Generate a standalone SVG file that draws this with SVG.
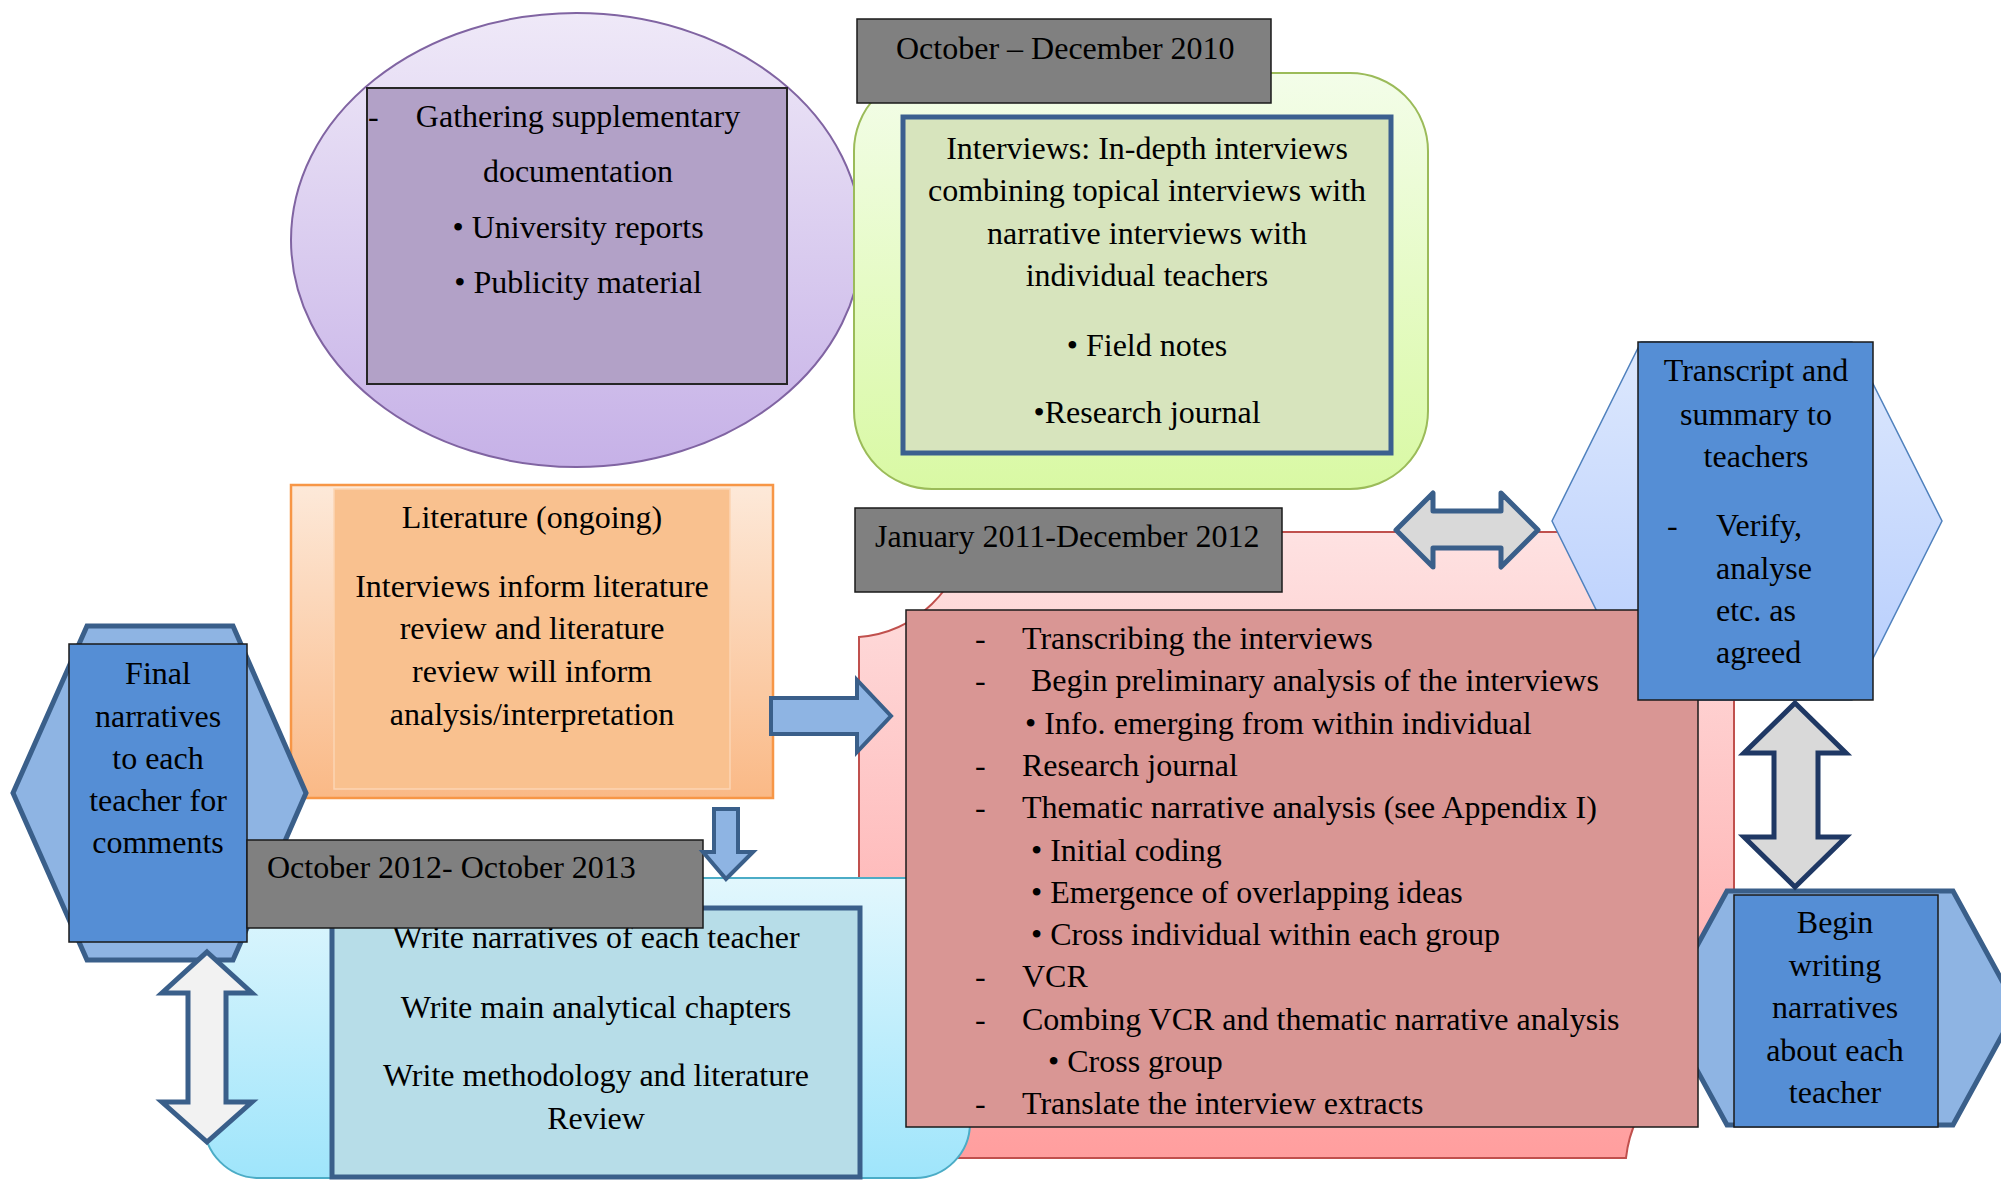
<svg xmlns="http://www.w3.org/2000/svg" width="2001" height="1180" viewBox="0 0 2001 1180">
<defs>
<linearGradient id="gPurple" x1="0" y1="0" x2="0" y2="1"><stop offset="0" stop-color="#efe9f8"/><stop offset="1" stop-color="#c6b1e7"/></linearGradient>
<linearGradient id="gGreen" x1="0" y1="0" x2="0" y2="1"><stop offset="0" stop-color="#f3fde9"/><stop offset="1" stop-color="#d9f9a4"/></linearGradient>
<linearGradient id="gOrange" x1="0" y1="0" x2="0" y2="1"><stop offset="0" stop-color="#fde9d9"/><stop offset="1" stop-color="#fab986"/></linearGradient>
<linearGradient id="gPink" x1="0" y1="0" x2="0" y2="1"><stop offset="0" stop-color="#fee2e2"/><stop offset="1" stop-color="#ff9e9e"/></linearGradient>
<linearGradient id="gCyan" x1="0" y1="0" x2="0" y2="1"><stop offset="0" stop-color="#e2f7fd"/><stop offset="1" stop-color="#9fe5fb"/></linearGradient>
<linearGradient id="gHex" x1="0" y1="0" x2="0" y2="1"><stop offset="0" stop-color="#dde8fd"/><stop offset="1" stop-color="#b6cdfd"/></linearGradient>
</defs>
<style>
text{font-family:"Liberation Serif","Times New Roman",serif;font-size:32px;fill:#000}
.c{text-anchor:middle}
.lbl{fill:#808080;stroke:#1a1a1a;stroke-width:1.5}
.blue{fill:#558ed5;stroke:#1a1a1a;stroke-width:1.5}
.hex{fill:#8eb4e3;stroke:#3a5f8a;stroke-width:5;stroke-linejoin:miter}
.blk{fill:#8eb4e3;stroke:#3a5f8a;stroke-width:4;stroke-linejoin:miter}
.dbl{fill:#d9d9d9;stroke:#3a5f8a;stroke-width:5;stroke-linejoin:round}
</style>

<g id="node-documentation">
<ellipse cx="576.5" cy="240" rx="285.5" ry="227" fill="url(#gPurple)" stroke="#8064a2" stroke-width="2"/>
<rect x="367" y="88" width="420" height="296" fill="#b2a1c7" stroke="#262626" stroke-width="2"/>
<text x="368" y="127">-</text>
<text class="c" x="578" y="127">Gathering supplementary</text>
<text class="c" x="578" y="182">documentation</text>
<text class="c" x="578" y="238">• University reports</text>
<text class="c" x="578" y="293">• Publicity material</text>
</g>

<g id="node-interviews">
<rect x="854" y="73" width="574" height="416" rx="78" fill="url(#gGreen)" stroke="#9bbb59" stroke-width="2"/>
<rect x="903" y="117" width="488" height="336" fill="#d7e4bd" stroke="#3b5f8f" stroke-width="5"/>
<text class="c" x="1147" y="159">Interviews: In-depth interviews</text>
<text class="c" x="1147" y="201">combining topical interviews with</text>
<text class="c" x="1147" y="244">narrative interviews with</text>
<text class="c" x="1147" y="286">individual teachers</text>
<text class="c" x="1147" y="356">• Field notes</text>
<text class="c" x="1147" y="423">•Research journal</text>
</g>

<g id="label-2010">
<rect class="lbl" x="857" y="19" width="414" height="84"/>
<text x="896" y="59">October – December 2010</text>
</g>

<g id="node-literature">
<rect x="291" y="485" width="482" height="313" fill="url(#gOrange)" stroke="#f79646" stroke-width="2.5"/>
<rect x="334" y="489" width="396" height="300" fill="#f9c18f" stroke="#fcd5b4" stroke-width="1.5"/>
<text class="c" x="532" y="528">Literature (ongoing)</text>
<text class="c" x="532" y="597">Interviews inform literature</text>
<text class="c" x="532" y="639">review and literature</text>
<text class="c" x="532" y="682">review will inform</text>
<text class="c" x="532" y="725">analysis/interpretation</text>
</g>

<g id="node-analysis-frame">
<path d="M859,1158 L859,637 A118,118 0 0 0 967,532 L1734,532 L1734,1053 A118,118 0 0 0 1626,1158 Z" fill="url(#gPink)" stroke="#c0504d" stroke-width="2"/>
</g>

<g id="label-2011">
<rect class="lbl" x="855" y="508" width="427" height="84"/>
<text x="875" y="547">January 2011-December 2012</text>
</g>

<g id="node-writing">
<path d="M204,878 H970 V1123 A55,55 0 0 1 915,1178 H259 A55,55 0 0 1 204,1123 Z" fill="url(#gCyan)" stroke="#4bacc6" stroke-width="2"/>
<rect x="332" y="908" width="528" height="269" fill="#b7dde8" stroke="#3a5f8a" stroke-width="5"/>
<text class="c" x="596" y="948">Write narratives of each teacher</text>
<text class="c" x="596" y="1018">Write main analytical chapters</text>
<text class="c" x="596" y="1086">Write methodology and literature</text>
<text class="c" x="596" y="1129">Review</text>
</g>

<g id="node-transcript-frame">
<polygon points="1552,521 1641,342 1852,342 1942,521 1852,700 1641,700" fill="url(#gHex)" stroke="#4f81bd" stroke-width="1.5"/>
</g>

<g id="node-begin-frame">
<polygon class="hex" points="1663,1008 1727,891 1953,891 2017,1008 1953,1125 1727,1125"/>
</g>

<g id="node-analysis">
<rect x="906" y="610" width="792" height="517" fill="#d99694" stroke="#1a1a1a" stroke-width="1.5"/>
<text x="975" y="649">-</text><text x="1022" y="649">Transcribing the interviews</text>
<text x="975" y="691">-</text><text x="1031" y="691">Begin preliminary analysis of the interviews</text>
<text x="1025" y="734">• Info. emerging from within individual</text>
<text x="975" y="776">-</text><text x="1022" y="776">Research journal</text>
<text x="975" y="818">-</text><text x="1022" y="818">Thematic narrative analysis (see Appendix I)</text>
<text x="1031" y="861">• Initial coding</text>
<text x="1031" y="903">• Emergence of overlapping ideas</text>
<text x="1031" y="945">• Cross individual within each group</text>
<text x="975" y="987">-</text><text x="1022" y="987">VCR</text>
<text x="975" y="1030">-</text><text x="1022" y="1030">Combing VCR and thematic narrative analysis</text>
<text x="1048" y="1072">• Cross group</text>
<text x="975" y="1114">-</text><text x="1022" y="1114">Translate the interview extracts</text>
</g>

<g id="node-transcript">
<rect class="blue" x="1638" y="342" width="235" height="358"/>
<text class="c" x="1756" y="381">Transcript and</text>
<text class="c" x="1756" y="425">summary to</text>
<text class="c" x="1756" y="467">teachers</text>
<text x="1667" y="536">-</text>
<text x="1716" y="536">Verify,</text>
<text x="1716" y="579">analyse</text>
<text x="1716" y="621">etc. as</text>
<text x="1716" y="663">agreed</text>
</g>

<g id="node-begin">
<rect class="blue" x="1734" y="895" width="204" height="232"/>
<text class="c" x="1835" y="933">Begin</text>
<text class="c" x="1835" y="976">writing</text>
<text class="c" x="1835" y="1018">narratives</text>
<text class="c" x="1835" y="1061">about each</text>
<text class="c" x="1835" y="1103">teacher</text>
</g>

<g id="node-final">
<polygon class="hex" points="13,793 87,626 233,626 306,793 233,960 87,960"/>
<rect class="blue" x="69" y="644" width="178" height="298"/>
<text class="c" x="158" y="684">Final</text>
<text class="c" x="158" y="727">narratives</text>
<text class="c" x="158" y="769">to each</text>
<text class="c" x="158" y="811">teacher for</text>
<text class="c" x="158" y="853">comments</text>
</g>

<g id="label-2012">
<rect class="lbl" x="247" y="840" width="456" height="88"/>
<text x="267" y="878">October 2012- October 2013</text>
</g>

<g id="connectors">
<polygon class="dbl" points="1396,530 1433,493 1433,511 1501,511 1501,493 1538,530 1501,567 1501,548 1433,548 1433,567"/>
<polygon class="dbl" style="stroke:#1f3864;stroke-linejoin:miter" points="1795,703 1846,753 1818,753 1818,837 1846,837 1795,887 1744,837 1774,837 1774,753 1744,753"/>
<polygon class="dbl" style="fill:#f2f2f2;stroke-linejoin:miter" points="207,952 252,993 226,993 226,1102 252,1102 207,1142 162,1102 188,1102 188,993 162,993"/>
<polygon class="blk" points="771,698 857,698 857,680 891,716 857,752 857,734 771,734"/>
<polygon class="blk" points="714,809 738,809 738,852 753,852 726,879 703,852 714,852"/>
</g>
</svg>
